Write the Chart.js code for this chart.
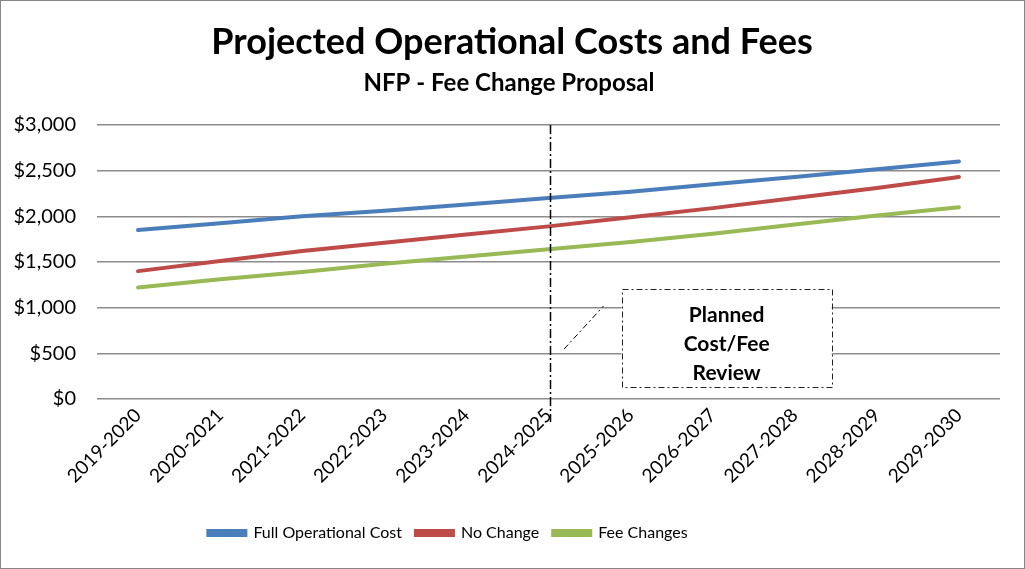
<!DOCTYPE html>
<html>
<head>
<meta charset="utf-8">
<script src="https://cdn.jsdelivr.net/npm/chart.js@4.4.1/dist/chart.umd.min.js"></script>
<style>
html,body{margin:0;padding:0;background:#fff;}
#wrap{width:1025px;height:569px;position:relative;}
</style>
</head>
<body>
<div id="wrap"><canvas id="c" width="1025" height="569"></canvas></div>
<script>
const categories = ["2019-2020","2020-2021","2021-2022","2022-2023","2023-2024","2024-2025","2025-2026","2026-2027","2027-2028","2028-2029","2029-2030"];
const fullOperationalCost = [1850,1925,2000,2060,2130,2200,2270,2350,2430,2515,2600];
const noChange = [1400,1510,1620,1710,1800,1890,1990,2090,2200,2310,2430];
const feeChanges = [1220,1310,1390,1480,1560,1640,1720,1810,1910,2010,2100];
const seriesNames = ["Full Operational Cost","No Change","Fee Changes"];
const yTicks = [0,500,1000,1500,2000,2500,3000];
const reviewCategory = "2024-2025";
const noteLines = ["Planned","Cost/Fee","Review"];

const FONT = "Lato";

const shiftBox = (b, dx) => { if (b) { b.left += dx; b.right += dx; } };

const decor = {
  id: 'decor',
  afterLayout(chart) {
    shiftBox(chart.titleBlock, 12);
    const sub = chart.boxes.find(b => b !== chart.titleBlock && b.options && b.options.text === 'NFP - Fee Change Proposal');
    shiftBox(sub, 9);
    shiftBox(chart.legend, -52);
  },
  beforeDraw(chart) {
    const ctx = chart.ctx;
    ctx.save();
    ctx.fillStyle = '#fff';
    ctx.fillRect(0,0,chart.width,chart.height);
    ctx.strokeStyle = '#878787';
    ctx.lineWidth = 1;
    ctx.strokeRect(0.5,0.5,chart.width-1,chart.height-1);
    ctx.restore();
  },
  afterDatasetsDraw(chart) {
    const ctx = chart.ctx;
    const xs = chart.scales.x, ys = chart.scales.y;
    const idx = categories.indexOf(reviewCategory);
    const vx = xs.getPixelForValue(idx) + 2;
    ctx.save();
    ctx.strokeStyle = '#000';
    ctx.lineWidth = 1.5;
    ctx.setLineDash([9,3,2,3]);
    ctx.beginPath();
    ctx.moveTo(vx, ys.getPixelForValue(3000));
    ctx.lineTo(vx, ys.getPixelForValue(0) + 23);
    ctx.stroke();
    // leader line
    ctx.lineWidth = 1;
    ctx.setLineDash([6,3,2,3]);
    ctx.beginPath();
    ctx.moveTo(xs.getPixelForValue(idx + 0.19), ys.getPixelForValue(547));
    ctx.lineTo(xs.getPixelForValue(idx + 0.67), ys.getPixelForValue(1018));
    ctx.stroke();
    // box
    const bx1 = xs.getPixelForValue(idx + 0.89), bx2 = xs.getPixelForValue(idx + 3.45);
    const by1 = ys.getPixelForValue(1204), by2 = ys.getPixelForValue(131);
    ctx.fillStyle = '#fff';
    ctx.fillRect(bx1, by1, bx2-bx1, by2-by1);
    ctx.setLineDash([6,3,2,3]);
    ctx.strokeStyle = '#222';
    ctx.strokeRect(Math.round(bx1)+0.5, Math.round(by1)+0.5, Math.round(bx2-bx1), Math.round(by2-by1));
    ctx.setLineDash([]);
    ctx.fillStyle = '#000';
    ctx.font = 'bold 21px ' + FONT;
    ctx.textAlign = 'center';
    ctx.textBaseline = 'middle';
    const cx = (bx1+bx2)/2, cy = (by1+by2)/2 + 6;
    noteLines.forEach((t,i)=>{ ctx.fillText(t, cx, cy + (i-1)*29); });
    ctx.restore();
  }
};

new Chart(document.getElementById('c'), {
  type: 'line',
  data: {
    labels: categories,
    datasets: [
      {label: seriesNames[0], data: fullOperationalCost, borderColor:'#4A7EBB', backgroundColor:'#4A7EBB'},
      {label: seriesNames[1], data: noChange, borderColor:'#BE4B48', backgroundColor:'#BE4B48'},
      {label: seriesNames[2], data: feeChanges, borderColor:'#98B954', backgroundColor:'#98B954'}
    ].map(d=>Object.assign(d,{borderWidth:4, pointRadius:0, tension:0, fill:false, borderCapStyle:'round'}))
  },
  options: {
    responsive:false, animation:false, devicePixelRatio:1,
    layout:{padding:{left:0,right:25,top:0,bottom:18}},
    plugins:{
      title:{display:true, text:'Projected Operational Costs and Fees', color:'#000', font:{family:FONT, size:36, weight:'bold'}, padding:{top:21,bottom:5}},
      subtitle:{display:true, text:'NFP - Fee Change Proposal', color:'#000', font:{family:FONT, size:24, weight:'bold'}, padding:{top:0,bottom:27}},
      legend:{position:'bottom', labels:{color:'#000', font:{family:FONT, size:16}, boxWidth:37, boxHeight:4, padding:14}},
      tooltip:{enabled:false}
    },
    scales:{
      x:{
        offset:true,
        grid:{display:false, drawTicks:false},
        border:{display:false},
        ticks:{color:'#000', font:{family:FONT, size:19}, minRotation:45, maxRotation:45, padding:5, autoSkip:false},
        afterFit(s){ s.height = 112; }
      },
      y:{
        min:0, max:3000,
        afterBuildTicks(s){ s.ticks = yTicks.map(v=>({value:v})); },
        grid:{color:'#8C8C8C', lineWidth:1.5, drawTicks:false},
        border:{display:false},
        ticks:{color:'#000', font:{family:FONT, size:20}, padding:21, callback:v=>'$'+Number(v).toLocaleString('en-US')},
        afterFit(s){ s.width = 97; }
      }
    }
  },
  plugins:[decor]
});
</script>
</body>
</html>
